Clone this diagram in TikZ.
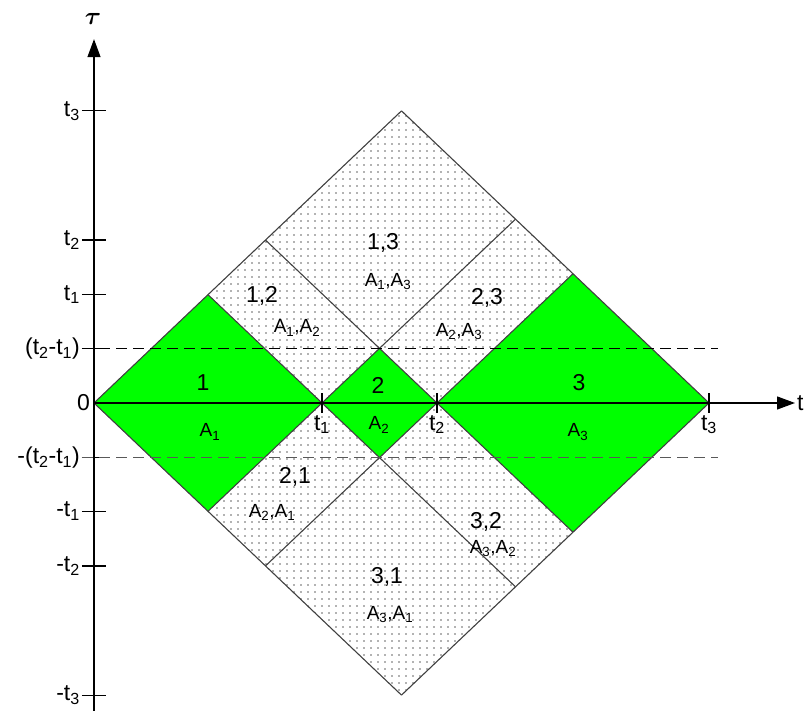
\documentclass[tikz,border=0pt]{standalone}
\usepackage{amsmath}
\usepackage{fontspec}
\setmainfont{Liberation Sans}
\usetikzlibrary{arrows.meta,patterns.meta}
\definecolor{cellgreen}{RGB}{0,255,0}

\begin{document}
\begin{tikzpicture}[
  x=1pt, y=0.95pt,
  lbl/.style  ={font=\fontsize{23}{27}\selectfont, inner sep=2pt},
  sub/.style  ={font=\fontsize{19}{23}\selectfont, inner sep=1pt},
  grid/.style ={draw=black!75, line width=1.1pt},
  cross/.style={pattern={Dots[distance=7pt,radius=0.8pt]}, pattern color=black!60},
  axis/.style ={-{Triangle[length=18pt,width=13pt]}, line width=1.2pt},
  tick/.style ={line width=1.2pt},
  hdash/.style={dashed, dash pattern=on 11pt off 6pt, line width=1.4pt},
]
\useasboundingbox (-94,-324.2) rectangle (715,424.2);

\def\tA{228}
\def\tB{343}
\def\tC{615}

% cell corners, a = t-tau and b = t+tau
\foreach \i/\a in {0/0,1/\tA,2/\tB,3/\tC}
  \foreach \j/\b in {0/0,1/\tA,2/\tB,3/\tC}
    \coordinate (g\i\j) at ({(\a+\b)/2},{(\b-\a)/2});

\foreach \i/\ip in {1/0,2/1,3/2}
  \fill[cellgreen] (g\ip\ip) -- (g\i\ip) -- (g\i\i) -- (g\ip\i) -- cycle;
\foreach \i/\ip/\j/\jp in {1/0/2/1,1/0/3/2,2/1/3/2,2/1/1/0,3/2/1/0,3/2/2/1}
  \path[cross] (g\ip\jp) -- (g\i\jp) -- (g\i\j) -- (g\ip\j) -- cycle;

\foreach \k in {0,1,2,3} {
  \draw[grid] (g\k0) -- (g\k3);
  \draw[grid] (g0\k) -- (g3\k);
}

% axes
\coordinate (o)      at (0,0);
\coordinate (tend)   at (701,0);
\coordinate (taubot) at (0,-324.2);
\coordinate (tautop) at (0,383);
\draw[axis] (o) -- (tend);
\draw[axis] (taubot) -- (tautop);
\node[lbl, anchor=west, inner sep=0pt] (tlab) at (703,0) {t};
\node[font=\fontsize{27}{30}\selectfont] (taulab) at (-1,404) {$\boldsymbol{\tau}$};
\node[lbl, anchor=east] (zero) at (-2,0) {0};

\foreach \v/\s in {\tA/1,\tB/2,\tC/3} {
  \draw[tick] (\v,-10.5) -- (\v,10.5);
  \node[lbl, anchor=north] (tx\s) at (\v,-10.5) {t\textsubscript{\s}};
}

\foreach \h/\txt [count=\n] in {307.5/{t\textsubscript{3}}, 171.5/{t\textsubscript{2}},
    114/{t\textsubscript{1}}, 57.5/{(t\textsubscript{2}-t\textsubscript{1})},
    -57.5/{-(t\textsubscript{2}-t\textsubscript{1})}, -114/{-t\textsubscript{1}},
    -171.5/{-t\textsubscript{2}}, -307.5/{-t\textsubscript{3}}} {
  \draw[tick] (-12,\h) -- (12,\h);
  \node[lbl, anchor=east] (ty\n) at (-12,\h) {\txt};
}

% dashed levels +-(t2-t1)
\coordinate (dl1) at (-12,57.5);
\coordinate (dr1) at (624,57.5);
\coordinate (dl2) at (-12,-57.5);
\coordinate (dr2) at (624,-57.5);
\draw[hdash] (dl1) -- (dr1);
\draw[hdash, black!65] (dl2) -- (dr2);

% cell labels
\node[lbl] (n11) at (109,21)     {1};
\node[lbl] (n22) at (284,18)     {2};
\node[lbl] (n33) at (485,21)     {3};
\node[lbl] (n12) at (168,112.6)  {1,2};
\node[lbl] (n13) at (289,168)    {1,3};
\node[lbl] (n23) at (393,110.5)  {2,3};
\node[lbl] (n21) at (201,-78)    {2,1};
\node[lbl] (n31) at (293,-183)   {3,1};
\node[lbl] (n32) at (392,-125)   {3,2};

\node[sub] (a11) at (116,-30.5)  {A\textsubscript{1}};
\node[sub] (a22) at (285,-23)    {A\textsubscript{2}};
\node[sub] (a33) at (484,-30.5)  {A\textsubscript{3}};
\node[sub] (a12) at (203,79)     {A\textsubscript{1},A\textsubscript{2}};
\node[sub] (a13) at (294,128)    {A\textsubscript{1},A\textsubscript{3}};
\node[sub] (a23) at (365,75)     {A\textsubscript{2},A\textsubscript{3}};
\node[sub] (a21) at (178,-115)   {A\textsubscript{2},A\textsubscript{1}};
\node[sub] (a31) at (296,-223)   {A\textsubscript{3},A\textsubscript{1}};
\node[sub] (a32) at (399,-153)   {A\textsubscript{3},A\textsubscript{2}};

\end{tikzpicture}
\end{document}
